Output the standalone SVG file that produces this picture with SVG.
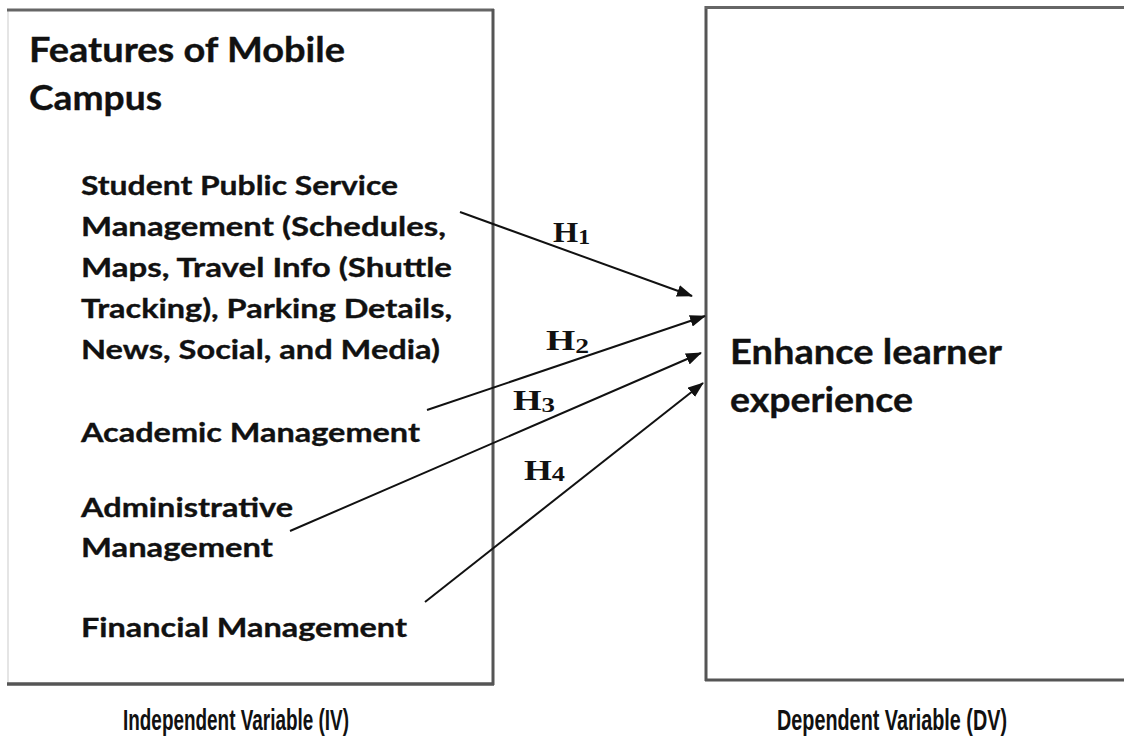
<svg xmlns="http://www.w3.org/2000/svg" width="1124" height="744" viewBox="0 0 1124 744">
  <style>
    .body { font-family: Lato, "Open Sans", sans-serif; font-weight: 700; fill: #111; stroke: #111; stroke-width: 0.35; }
    .h { font-family: "Liberation Serif", "Times New Roman", serif; font-weight: 700; fill: #111; }
    .cap { font-family: "Liberation Sans", Arial, sans-serif; font-weight: 700; fill: #111; }
    .conn { stroke: #111; stroke-width: 2; fill: none; marker-end: url(#arrow); }
  </style>
  <defs>
    <marker id="arrow" viewBox="0 0 16 12" refX="15" refY="6" markerWidth="16" markerHeight="12" markerUnits="userSpaceOnUse" orient="auto">
      <path d="M0,0 L16,6 L0,12 Z" fill="#111"/>
    </marker>
  </defs>
  <rect width="1124" height="744" fill="#fff"/>

  <!-- independent variable box -->
  <g id="iv-box">
    <line x1="8" y1="10" x2="8" y2="684" stroke="#ddd" stroke-width="1.5"/>
    <line x1="7" y1="10" x2="494" y2="10" stroke="#666" stroke-width="3"/>
    <line x1="493" y1="9" x2="493" y2="685" stroke="#555" stroke-width="3"/>
    <line x1="7" y1="684" x2="494" y2="684" stroke="#555" stroke-width="3.5"/>
    <text class="body" x="29" y="62" font-size="34" textLength="316" lengthAdjust="spacingAndGlyphs">Features of Mobile</text>
    <text class="body" x="29" y="110" font-size="34" textLength="133" lengthAdjust="spacingAndGlyphs">Campus</text>
  </g>

  <g id="student-public-service">
    <text class="body" x="81" y="195" font-size="27.5" textLength="317" lengthAdjust="spacingAndGlyphs">Student Public Service</text>
    <text class="body" x="81" y="236" font-size="27.5" textLength="365" lengthAdjust="spacingAndGlyphs">Management (Schedules,</text>
    <text class="body" x="81" y="277" font-size="27.5" textLength="371" lengthAdjust="spacingAndGlyphs">Maps, Travel Info (Shuttle</text>
    <text class="body" x="81" y="318" font-size="27.5" textLength="371" lengthAdjust="spacingAndGlyphs">Tracking), Parking Details,</text>
    <text class="body" x="81" y="359" font-size="27.5" textLength="359" lengthAdjust="spacingAndGlyphs">News, Social, and Media)</text>
  </g>
  <g id="academic-management">
    <text class="body" x="81" y="442" font-size="27.5" textLength="339" lengthAdjust="spacingAndGlyphs">Academic Management</text>
  </g>
  <g id="administrative-management">
    <text class="body" x="81" y="517" font-size="27.5" textLength="212" lengthAdjust="spacingAndGlyphs">Administrative</text>
    <text class="body" x="81" y="557" font-size="27.5" textLength="192" lengthAdjust="spacingAndGlyphs">Management</text>
  </g>
  <g id="financial-management">
    <text class="body" x="81" y="637" font-size="27.5" textLength="326" lengthAdjust="spacingAndGlyphs">Financial Management</text>
  </g>

  <!-- dependent variable box -->
  <g id="dv-box">
    <line x1="706" y1="6" x2="706" y2="681" stroke="#555" stroke-width="3"/>
    <line x1="705" y1="7.5" x2="1124" y2="7.5" stroke="#666" stroke-width="3"/>
    <line x1="705" y1="680" x2="1124" y2="680" stroke="#555" stroke-width="3"/>
    <text class="body" x="730" y="364" font-size="35" textLength="272" lengthAdjust="spacingAndGlyphs">Enhance learner</text>
    <text class="body" x="730" y="412" font-size="35" textLength="183" lengthAdjust="spacingAndGlyphs">experience</text>
  </g>

  <!-- hypothesis connectors -->
  <g id="connectors">
    <line class="conn" x1="460" y1="212" x2="692" y2="296"/>
    <line class="conn" x1="427" y1="410" x2="705" y2="316"/>
    <line class="conn" x1="290" y1="531" x2="701" y2="353"/>
    <line class="conn" x1="425" y1="602" x2="703" y2="383"/>
    <text class="h" x="553" y="242" font-size="30" textLength="37" lengthAdjust="spacingAndGlyphs">H<tspan font-size="22" dy="2">1</tspan></text>
    <text class="h" x="546" y="350" font-size="30" textLength="43" lengthAdjust="spacingAndGlyphs">H<tspan font-size="22" dy="3">2</tspan></text>
    <text class="h" x="513" y="410" font-size="30" textLength="42" lengthAdjust="spacingAndGlyphs">H<tspan font-size="22" dy="2">3</tspan></text>
    <text class="h" x="524" y="480" font-size="30" textLength="41" lengthAdjust="spacingAndGlyphs">H<tspan font-size="22" dy="1">4</tspan></text>
  </g>

  <!-- variable captions -->
  <text class="cap" x="123" y="730" font-size="29" textLength="226" lengthAdjust="spacingAndGlyphs">Independent Variable (IV)</text>
  <text class="cap" x="777" y="730" font-size="29" textLength="230" lengthAdjust="spacingAndGlyphs">Dependent Variable (DV)</text>
</svg>
